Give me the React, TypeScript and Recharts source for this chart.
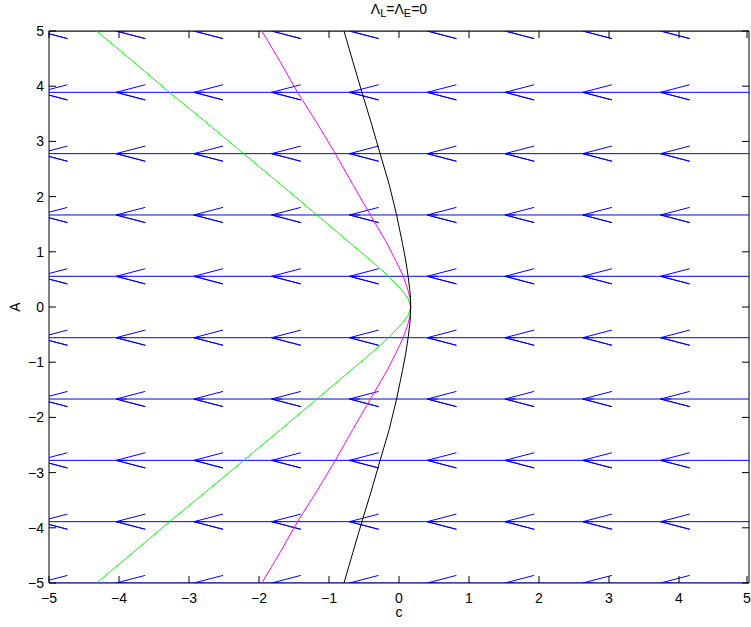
import React from "react";
import { ScatterChart, Scatter, XAxis, YAxis } from "recharts";

const xTicks = [-5, -4, -3, -2, -1, 0, 1, 2, 3, 4, 5];
const yTicks = [-5, -4, -3, -2, -1, 0, 1, 2, 3, 4, 5];

// quiver grid (c, A) and the arrow vector drawn at every grid point
const gridC = [-5, -3.889, -2.778, -1.667, -0.556, 0.556, 1.667, 2.778, 3.889, 5];
const gridA = [-5, -3.889, -2.778, -1.667, -0.556, 0.556, 1.667, 2.778, 3.889, 5];
const arrowU = -1.264;
const arrowV = 0;
const headAlpha = 0.33;
const headBeta = 0.33;

// curves c(A)
const curveA = [-5, -4.45, -3.89, -3.35, -2.78, -2.22, -1.67, -1.15, -0.85, -0.56, -0.3, -0.15, 0, 0.15, 0.3, 0.56, 0.85, 1.15, 1.67, 2.22, 2.78, 3.35, 3.89, 4.45, 5];
const greenC = [-4.32, -3.8, -3.28, -2.76, -2.22, -1.69, -1.175, -0.69, -0.41, -0.15, 0.045, 0.132, 0.167, 0.132, 0.045, -0.15, -0.41, -0.69, -1.175, -1.69, -2.22, -2.76, -3.28, -3.8, -4.32];
const magentaC = [-1.96, -1.7, -1.45, -1.18, -0.91, -0.66, -0.41, -0.17, -0.05, 0.06, 0.13, 0.158, 0.167, 0.158, 0.13, 0.06, -0.05, -0.17, -0.41, -0.66, -0.91, -1.18, -1.45, -1.7, -1.96];
const blackC = [-0.786, -0.66, -0.53, -0.4, -0.27, -0.14, -0.035, 0.05, 0.095, 0.13, 0.155, 0.165, 0.167, 0.165, 0.155, 0.13, 0.095, 0.05, -0.035, -0.14, -0.27, -0.4, -0.53, -0.66, -0.786];

const FONT = "'Liberation Sans', Arial, Helvetica, sans-serif";
const TICK = 7;

const toPoints = (cs: number[]) => cs.map((c, i) => ({ c, A: curveA[i] }));

// each arrow: shaft start -> tip -> barb -> tip -> barb (matlab quiver head)
const arrows: { c: number; A: number }[][] = [];
gridA.forEach((a) => {
  gridC.forEach((c) => {
    const tc = c + arrowU;
    const ta = a + arrowV;
    arrows.push([
      { c, A: a },
      { c: tc, A: ta },
      { c: tc - headAlpha * (arrowU + headBeta * arrowV), A: ta - headAlpha * (arrowV - headBeta * arrowU) },
      { c: tc, A: ta },
      { c: tc - headAlpha * (arrowU - headBeta * arrowV), A: ta - headAlpha * (arrowV + headBeta * arrowU) },
    ]);
  });
});

const fmt = (v: number) => (v < 0 ? "\u2212" + Math.abs(v) : String(v));

function BottomTick({ x, y, payload }: any) {
  return (
    <g>
      <line x1={x} y1={y} x2={x} y2={y - TICK} stroke="#000" />
      <text x={x} y={y + 19.5} textAnchor="middle" fontSize={14} fontFamily={FONT} fill="#000">
        {fmt(payload.value)}
      </text>
    </g>
  );
}

function TopTick({ x, y }: any) {
  return <line x1={x} y1={y} x2={x} y2={y + TICK} stroke="#000" />;
}

function LeftTick({ x, y, payload }: any) {
  return (
    <g>
      <line x1={x} y1={y} x2={x + TICK} y2={y} stroke="#000" />
      <text x={x - 5} y={y + 5} textAnchor="end" fontSize={14} fontFamily={FONT} fill="#000">
        {fmt(payload.value)}
      </text>
    </g>
  );
}

function RightTick({ x, y }: any) {
  return <line x1={x} y1={y} x2={x - TICK} y2={y} stroke="#000" />;
}

const noDot = () => <g />;
const subStyle: React.CSSProperties = { fontSize: 11, lineHeight: 0, position: "relative", top: 3 };

export default function App() {
  return (
    <div style={{ position: "fixed", left: 0, top: 0, width: 751, height: 627, fontFamily: FONT, background: "#fff" }}>
      <div
        style={{
          position: "absolute",
          left: 49,
          top: 0,
          width: 700,
          height: 18,
          lineHeight: "18px",
          fontSize: 14,
          textAlign: "center",
          color: "#000",
        }}
      >
        Λ<span style={subStyle}>L</span>=Λ<span style={subStyle}>E</span>=0
      </div>
      <ScatterChart width={751} height={627} margin={{ top: 30, right: 1, bottom: 8, left: 19 }}>
        <XAxis
          dataKey="c"
          type="number"
          domain={[-5, 5]}
          ticks={xTicks}
          allowDataOverflow
          height={36}
          tickSize={0}
          tickMargin={0}
          tickLine={false}
          axisLine={{ stroke: "#000" }}
          tick={<BottomTick />}
          label={({ viewBox }: any) => (
            <text x={viewBox.x + viewBox.width / 2} y={viewBox.y + 34} textAnchor="middle" fontSize={14} fontFamily={FONT} fill="#000">
              c
            </text>
          )}
        />
        <XAxis
          xAxisId="top"
          orientation="top"
          dataKey="c"
          type="number"
          domain={[-5, 5]}
          ticks={xTicks}
          allowDataOverflow
          height={1}
          tickSize={0}
          tickMargin={0}
          tickLine={false}
          axisLine={{ stroke: "#000" }}
          tick={<TopTick />}
        />
        <YAxis
          dataKey="A"
          type="number"
          domain={[-5, 5]}
          ticks={yTicks}
          allowDataOverflow
          width={30}
          tickSize={0}
          tickMargin={0}
          tickLine={false}
          axisLine={{ stroke: "#000" }}
          tick={<LeftTick />}
          label={({ viewBox }: any) => {
            const cx = viewBox.x + 1;
            const cy = viewBox.y + viewBox.height / 2;
            return (
              <text x={cx} y={cy} transform={`rotate(-90 ${cx} ${cy})`} textAnchor="middle" fontSize={14} fontFamily={FONT} fill="#000">
                A
              </text>
            );
          }}
        />
        <YAxis
          yAxisId="right"
          orientation="right"
          dataKey="A"
          type="number"
          domain={[-5, 5]}
          ticks={yTicks}
          allowDataOverflow
          width={1}
          tickSize={0}
          tickMargin={0}
          tickLine={false}
          axisLine={{ stroke: "#000" }}
          tick={<RightTick />}
        />
        {arrows.map((pts, i) => (
          <Scatter
            key={"q" + i}
            data={pts}
            line={{ stroke: "#0000ff", strokeWidth: 1 }}
            lineType="joint"
            shape={noDot}
            isAnimationActive={false}
          />
        ))}
        <Scatter data={toPoints(greenC)} line={{ stroke: "#00ff00", strokeWidth: 1 }} lineType="joint" shape={noDot} isAnimationActive={false} />
        <Scatter data={toPoints(magentaC)} line={{ stroke: "#ff00ff", strokeWidth: 1 }} lineType="joint" shape={noDot} isAnimationActive={false} />
        <Scatter data={toPoints(blackC)} line={{ stroke: "#000000", strokeWidth: 1 }} lineType="joint" shape={noDot} isAnimationActive={false} />
      </ScatterChart>
    </div>
  );
}
